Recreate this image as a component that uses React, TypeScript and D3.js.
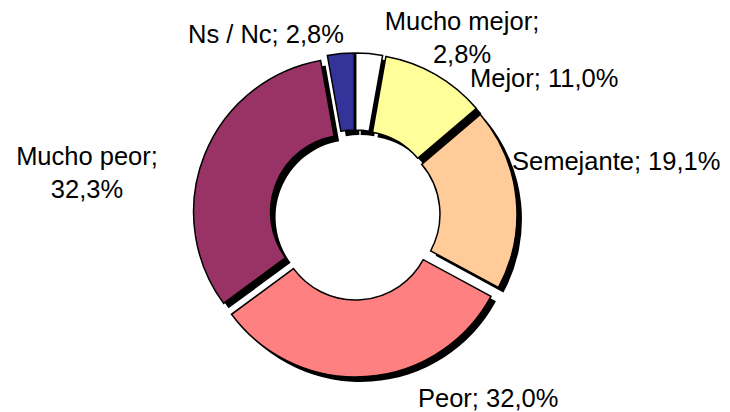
import React from 'react';
import * as d3 from 'd3';

// categories clockwise from 12 o'clock
const categories = ["Mucho mejor", "Mejor", "Semejante", "Peor", "Mucho peor", "Ns / Nc"];
const values = [2.8, 11.0, 19.1, 32.0, 32.3, 2.8];
const colors = ["#FFFFFF", "#FFFF99", "#FFCC99", "#FF8080", "#993366", "#333399"];

// label lines and where they sit (text layout, not data)
const labelLines = [
  ["Mucho mejor;", "2,8%"],
  ["Mejor; 11,0%"],
  ["Semejante; 19,1%"],
  ["Peor; 32,0%"],
  ["Mucho peor;", "32,3%"],
  ["Ns / Nc; 2,8%"],
];
const labelPos = [
  {x: 462, y: 30, anchor: "middle"},
  {x: 470, y: 87, anchor: "start"},
  {x: 512, y: 170, anchor: "start"},
  {x: 418, y: 407, anchor: "start"},
  {x: 87, y: 165, anchor: "middle"},
  {x: 188, y: 43, anchor: "start"},
];

const W = 730;
const H = 412;

export default function App() {
  const cx = 355;
  const cy = 215;
  const ro = 154;
  const ri = 77;
  const explode = 8;
  const shadow = 5;

  const pie = d3.pie<number>().sort(null).startAngle(0).endAngle(2 * Math.PI);
  const arc = d3.arc<d3.PieArcDatum<number>>().innerRadius(ri).outerRadius(ro);
  const slices = pie(values);

  const offset = (s: d3.PieArcDatum<number>) => {
    const mid = (s.startAngle + s.endAngle) / 2;
    return [explode * Math.sin(mid), -explode * Math.cos(mid)];
  };

  return (
    <svg width={W} height={H} style={{position: "absolute", left: 0, top: 0, background: "#fff"}}
      fontFamily="'Liberation Sans', Arial, sans-serif">
      <g transform={`translate(${cx},${cy})`}>
        {slices.map((s, i) => {
          const [dx, dy] = offset(s);
          return <path key={"sh" + i} d={arc(s) || ""} fill="#000"
            transform={`translate(${dx + shadow},${dy + shadow})`} />;
        })}
        {slices.map((s, i) => {
          const [dx, dy] = offset(s);
          return <path key={i} d={arc(s) || ""} fill={colors[i]} stroke="#000" strokeWidth={1.5}
            strokeLinejoin="miter" transform={`translate(${dx},${dy})`} />;
        })}
      </g>
      {labelLines.map((lines, i) => (
        <text key={i} x={labelPos[i].x} y={labelPos[i].y} textAnchor={labelPos[i].anchor}
          fontSize={25.5} fill="#000">
          {lines.map((t, j) => (
            <tspan key={j} x={labelPos[i].x} dy={j === 0 ? 0 : 33}>{t}</tspan>
          ))}
        </text>
      ))}
    </svg>
  );
}
